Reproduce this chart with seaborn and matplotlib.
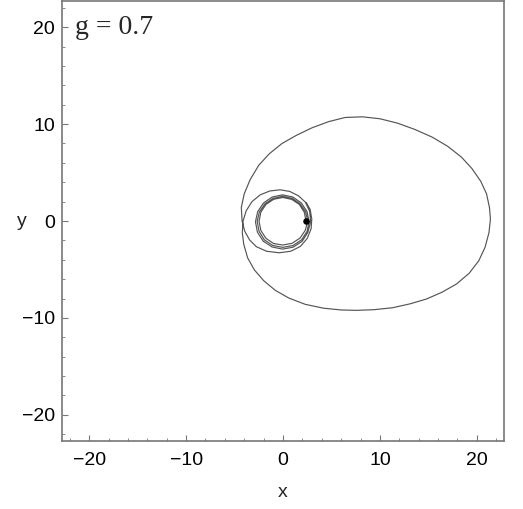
import matplotlib
matplotlib.use("Agg")
import matplotlib.pyplot as plt
import seaborn as sb
import pandas as pd
from matplotlib.ticker import MultipleLocator

# inner turns around the centre (three close strands)
inner_x = [2.37, 2.20, 1.68, 0.90, -0.03, -0.96, -1.75, -2.28, -2.47, -2.29, -1.77, -0.98, -0.03, 0.94, 1.76, 2.30,
           2.55, 2.34, 1.78, 0.96, -0.03, -1.03, -1.87, -2.44, -2.66, -2.47, -1.93, -1.07, -0.03, 1.03, 1.91, 2.48,
           2.69, 2.48, 1.89, 1.00, -0.05, -1.10, -2.00, -2.61, -2.84, -2.64, -2.04, -1.13, -0.05, 1.05, 1.97, 2.57]
inner_y = [0.00, 0.90, 1.71, 2.23, 2.43, 2.24, 1.72, 0.93, -0.02, -0.96, -1.78, -2.32, -2.48, -2.30, -1.76, -0.96,
           -0.03, 0.93, 1.76, 2.33, 2.55, 2.33, 1.77, 0.93, -0.05, -1.06, -1.94, -2.52, -2.72, -2.53, -1.95, -1.08,
           -0.07, 0.97, 1.87, 2.48, 2.70, 2.48, 1.87, 0.97, -0.08, -1.15, -2.08, -2.68, -2.90, -2.70, -2.10, -1.17]

# medium loop + big outer loop
loop_x = [2.85, 2.75, 2.30, 1.60, 0.70, -0.30, -1.35, -2.35, -3.20, -3.80, -4.12, -4.20, -4.05, -3.65, -2.95,
          -2.00, -0.80, 0.60, 2.30, 4.20, 6.00, 7.60, 9.40, 11.30, 13.10, 14.80, 16.40, 17.90, 19.20, 20.20,
          20.85, 21.25, 21.40, 21.30, 21.00, 20.40, 19.50, 18.40, 17.00, 15.40, 13.60, 11.80, 10.00, 8.20, 6.40,
          4.70, 3.00, 1.40, -0.10, -1.40, -2.50, -3.40, -4.00, -4.30, -4.22, -3.95, -3.45, -2.75, -1.70, -0.40,
          0.80, 1.80, 2.50, 2.90, 2.97, 2.80, 2.40]
loop_y = [-0.05, 1.00, 1.95, 2.60, 3.05, 3.22, 3.10, 2.70, 2.00, 1.05, 0.00, -1.20, -2.40, -3.80, -5.05,
          -6.15, -7.15, -7.95, -8.60, -9.00, -9.18, -9.22, -9.15, -8.95, -8.55, -8.05, -7.35, -6.50, -5.40, -4.10,
          -2.70, -1.20, 0.20, 1.40, 2.80, 4.10, 5.40, 6.60, 7.70, 8.65, 9.45, 10.10, 10.55, 10.75, 10.68,
          10.25, 9.62, 8.85, 8.00, 6.95, 5.75, 4.25, 2.80, 1.40, 0.00, -1.05, -1.95, -2.65, -3.12, -3.28,
          -3.12, -2.62, -1.80, -0.80, 0.20, 1.20, 1.90]

dot_x = [2.37]
dot_y = [0.0]

ticks = [-20, -10, 0, 10, 20]
title = "g = 0.7"

sb.set_style("ticks")
plt.rcParams['font.family'] = ['Liberation Sans', 'DejaVu Sans']

path = pd.DataFrame({"x": inner_x + loop_x, "y": inner_y + loop_y})

fig = plt.figure(figsize=(5.23, 5.09), dpi=100)
ax = fig.add_axes([62/523, 1 - 441/509, 442/523, 440/509])

sb.lineplot(data=path, x="x", y="y", sort=False, estimator=None,
            color="#555555", lw=0.85, ax=ax)
sb.scatterplot(x=dot_x, y=dot_y, color="black", s=22, linewidth=0, ax=ax, zorder=3)

ax.set_xlim(-22.8, 22.8)
ax.set_ylim(-22.7, 22.7)
ax.set_xticks(ticks)
ax.set_yticks(ticks)
ax.xaxis.set_minor_locator(MultipleLocator(2))
ax.yaxis.set_minor_locator(MultipleLocator(2))

ax.tick_params(which="both", direction="in", top=False, right=False,
               color="#777777", labelcolor="black", labelsize=14)
ax.tick_params(which="major", length=4, width=0.8)
ax.tick_params(which="minor", length=2, width=0.6)
ax.tick_params(axis="x", which="major", pad=8)
ax.tick_params(axis="y", which="major", pad=5)

for s in ax.spines.values():
    s.set_color("#777777")
    s.set_linewidth(1.2)

ax.set_xlabel("x", fontsize=14, va="center")
ax.xaxis.set_label_coords(0.5, -0.118)
ax.set_ylabel("y", fontsize=14, rotation=0, ha="center", va="center")
ax.yaxis.set_label_coords(-0.09, 0.5)

ax.text(0.029, 0.924, title, transform=ax.transAxes, family=["Liberation Serif"],
        fontsize=20, va="baseline")

fig.savefig("out.png", dpi=100)
